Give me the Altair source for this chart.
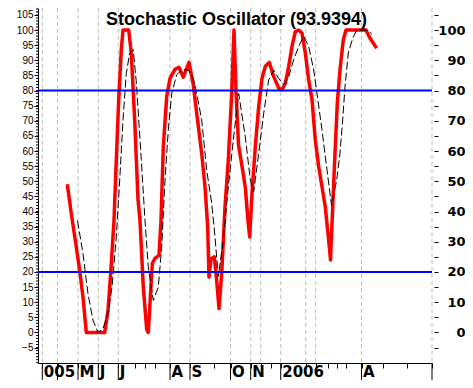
import altair as alt
import pandas as pd

# %K (red) : bar index, value
k_t = [14.65, 16.65, 18.65, 20.85, 22.5, 24.15, 33.35, 35, 36.35, 38, 39.15, 40.35, 41.65, 42.5,
       45.35, 46.65, 48.35, 50, 51, 52.65, 54.35, 55.15, 56, 57.15, 58.5, 60.5, 61.5, 62.65, 64.35,
       66, 68.5, 70.5, 72.65, 75.5, 77.65, 79.35, 81.85, 83.5, 84.85, 85.5, 86.5, 88.15, 89.35, 90.5,
       91.85, 93.5, 95.15, 96.85, 98, 99, 100.25, 102, 103.65, 105, 105.85, 107, 108.65, 110.35, 112,
       113.65, 115.65, 117.85, 120.35, 122, 123.65, 125.35, 127, 128.65, 130.35, 132, 133.65, 135.35,
       137, 138.65, 140.35, 142, 143.65, 145.35, 146.25, 147.35, 148.5, 149.65, 151, 152.65, 154,
       164, 166, 169.35]
k_v = [49, 39.3, 30.5, 20.5, 11.7, 0, 0, 7.3, 19.5, 37, 57, 77, 93.5, 100,
       100, 92.4, 70.3, 44, 37, 15, 1, 0, 9.6, 22.8, 24.5, 25.5, 37, 61.4, 78,
       84, 87, 87.7, 84.4, 89.3, 81.9, 72.5, 59.2, 48.2, 34.9, 18.3, 24.4, 25, 17.2, 7.9,
       19.5, 41.5, 57, 79, 100, 80, 62, 55, 48, 37, 31.6, 46, 61.4, 74.7, 84,
       88, 89.3, 84.6, 80.8, 80.2, 82.4, 88, 94.6, 99.5, 100, 99, 92.4, 83.5,
       77, 63.6, 54.8, 48.2, 41.5, 30.5, 24, 41.5, 59.2, 75.8, 86.8, 96.8, 100,
       100, 97.3, 94]

# %D (black dashed)
d_t = [19.75, 22.5, 25, 27.5, 30, 32.5, 35, 37, 39.15, 40.85, 42.5, 44.15, 45.85, 47.65, 49.25,
       51.85, 53.5, 55.15, 57.65, 60.15, 61.85, 63.5, 65.15, 66.85, 69.35, 71.85, 75.15, 77.65,
       79.35, 81.85, 84.35, 86.85, 88.5, 90.15, 92.65, 95.15, 97.65, 100.35, 103.65, 106.15, 107.85,
       110.35, 112.85, 115.35, 117.85, 120.35, 122.85, 125.35, 127.85, 130.35, 132.85, 135.35,
       137.85, 139.5, 142, 144.5, 146.75, 149.35, 151, 152.35, 153.5, 155.15, 157.35, 159.35,
       164.35, 166.85]
d_v = [37, 26, 12.8, 4, 0, 1.3, 6.3, 15, 31.6, 50.4, 70.3, 85.7, 92.4, 93.5, 82,
       55, 37, 21.6, 10.6, 15, 28.3, 50.4, 67, 79, 85.2, 86.8, 86.8, 84,
       79, 70.3, 53.7, 42.7, 31.6, 18.5, 30.5, 48.2, 63.6, 79, 64.7, 50.4, 46.5,
       59.2, 72.5, 83.5, 86.8, 84, 81.9, 84.6, 90.2, 94.6, 97.9, 94.6,
       86.8, 79, 67, 53.7, 42, 50.4, 59.3, 70.3, 81.3, 92.4, 97.3, 99.9,
       100, 98.8]

grid_t = [2.15, 9.75, 20, 30.15, 40.15, 66, 76, 96.25, 106.35, 111.35, 121.35, 133.85, 138.85, 161.75, 197]
label_t = [2.15, 20, 30.15, 40.15, 66, 76, 96.25, 106.35, 121.35, 161.75]
label_text = ["005", "M", "J", "J", "A", "S", "O", "N", "2006", "A"]
sep_t = [2.15, 9.75, 20, 30.15, 40.15, 66, 76, 96.25, 106.35, 121.35, 161.75, 197]
short_t = [48.5, 53.5, 58.75, 88, 111.35, 116.35, 133.85, 138.85, 145, 149.5, 154, 172.5, 184.35]
levels = [20, 80]
left_ticks = list(range(-5, 106, 5))
right_ticks = list(range(-5, 106, 5))
minor_v = list(range(-10, 108))
title_text = "Stochastic Oscillator (93.9394)"

W, H = 394, 355
xs = alt.Scale(domain=[0, 197], nice=False, zero=False)
ys = alt.Scale(domain=[-10.1, 107.3], nice=False, zero=False)

label_expr = " : ".join(
    f"round(datum.value*100)=={round(t*100)} ? '{s}'" for t, s in zip(label_t, label_text)
) + " : ''"

xaxis = alt.Axis(values=sorted(set(label_t + short_t + sep_t)), labelExpr=label_expr, title=None,
                 grid=False, tickSize=5, labelPadding=8, labelBaseline="alphabetic",
                 labelAlign="left", labelOffset=1, labelFont="DejaVu Sans", labelFontWeight="bold",
                 labelFontSize=15, labelOverlap=False, labelFlush=False, labelBound=False,
                 domainColor="black", tickColor="black", labelColor="black")
yleft = alt.Axis(values=left_ticks, title=None, grid=False, tickSize=4, labelPadding=1,
                 labelFont="Liberation Sans", labelFontSize=10, labelColor="black",
                 domainColor="black", tickColor="black", labelOverlap=False, labelFlush=False)
yright = alt.Axis(orient="right", values=right_ticks, title=None, grid=False, tickSize=4, offset=2,
                  domain=False, labelAlign="right", labelPadding=27,
                  labelExpr="datum.value % 10 == 0 && datum.value >= 0 && datum.value <= 100 ? datum.label : ''",
                  labelFont="DejaVu Sans", labelFontWeight="bold", labelFontSize=13,
                  labelColor="black", tickColor="black", labelOverlap=False, labelFlush=False)

df_k = pd.DataFrame({"t": k_t, "v": k_v})
df_d = pd.DataFrame({"t": d_t, "v": d_v})
df_grid = pd.DataFrame({"t": grid_t})
df_sep = pd.DataFrame({"t": sep_t})
df_lev = pd.DataFrame({"v": levels})
df_minor = pd.DataFrame({"v": minor_v})
df_title = pd.DataFrame({"label": [title_text]})

grid = alt.Chart(df_grid).mark_rule(color="#bdbdbd", strokeDash=[4, 3], strokeWidth=1).encode(
    x=alt.X("t:Q", scale=xs, axis=xaxis))
sep = alt.Chart(df_sep).mark_rule(color="black", strokeWidth=1).encode(
    x=alt.X("t:Q", scale=xs, axis=xaxis), y=alt.value(H), y2=alt.value(H + 30))
minor = alt.Chart(df_minor).mark_rule(color="black", strokeWidth=1).encode(
    y=alt.Y("v:Q", scale=ys, axis=yleft), x=alt.value(-2), x2=alt.value(0))
kline = alt.Chart(df_k).mark_line(color="#ff0000", strokeWidth=3.5, strokeJoin="round").encode(
    x=alt.X("t:Q", scale=xs, axis=xaxis), y=alt.Y("v:Q", scale=ys, axis=yleft))
dline = alt.Chart(df_d).mark_line(color="black", strokeWidth=1, strokeDash=[8, 3]).encode(
    x=alt.X("t:Q", scale=xs, axis=xaxis), y=alt.Y("v:Q", scale=ys, axis=yleft))
title = alt.Chart(df_title).mark_text(font="Liberation Sans", fontSize=18, fontWeight="bold",
                                      color="black", align="center", baseline="alphabetic").encode(
    text="label:N", x=alt.value(198.5), y=alt.value(16.5))
lev = alt.Chart(df_lev).mark_rule(color="#0000ff", strokeWidth=2).encode(
    y=alt.Y("v:Q", scale=ys, axis=yright))

inner = alt.layer(grid, sep, minor, kline, dline, title)
chart = alt.layer(inner, lev).resolve_axis(y="independent").properties(
    width=W, height=H,
    autosize=alt.AutoSizeParams(type="none"),
    padding={"left": 30, "top": 0, "right": 33, "bottom": 17},
    background="white",
).configure_view(stroke=None)

chart.save("out.html", embed_options={"renderer": "svg", "actions": False})
